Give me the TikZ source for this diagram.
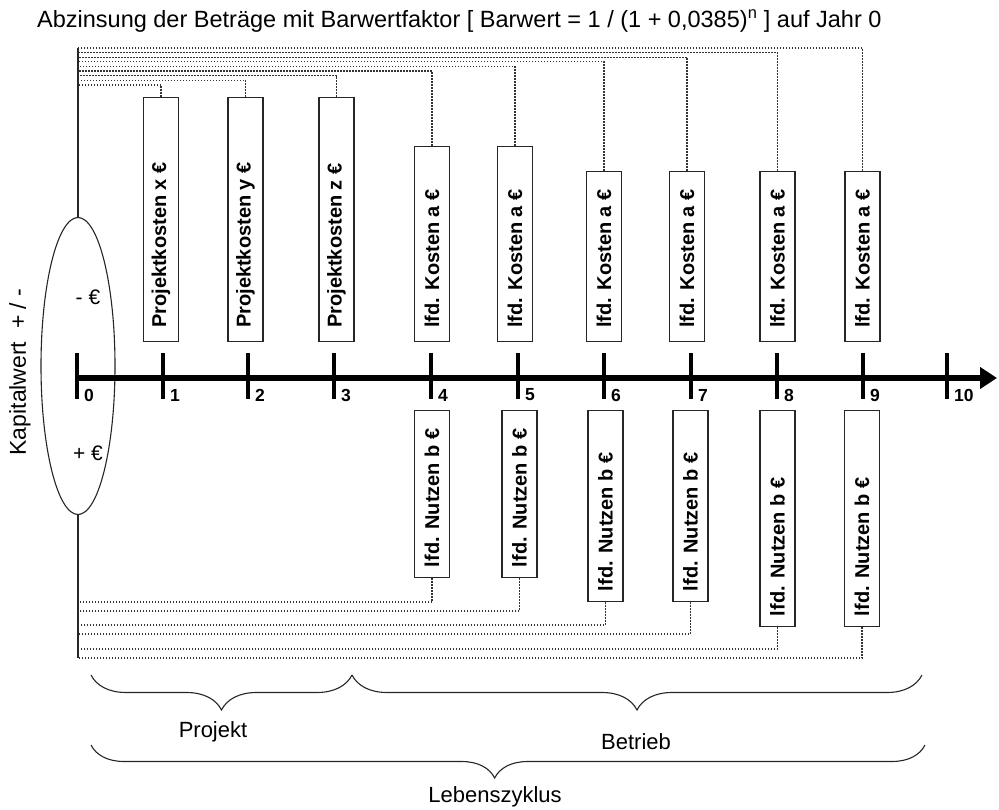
\documentclass[tikz,border=0pt]{standalone}
\usepackage{fontspec}
\setmainfont{Liberation Sans}
\usepackage{tikz}
\usetikzlibrary{arrows.meta,positioning,calc,shapes.geometric,decorations.pathreplacing}

\begin{document}
\begin{tikzpicture}[x=1pt, y=-1pt,
  box/.style={draw=black!85, line width=1.2pt, minimum width=35pt, inner sep=0pt},
  boxtext/.style={rotate=90, inner sep=0pt, font=\fontsize{20}{24}\selectfont\bfseries},
  dotline/.style={black!80, line width=1.2pt, dash pattern=on 1.3pt off 1.7pt},
  tickmark/.style={line width=4.5pt},
  axislabel/.style={inner sep=0pt, font=\fontsize{17.5}{21}\selectfont\bfseries},
  bigtext/.style={inner sep=0pt, font=\fontsize{22}{26}\selectfont},
  curly/.style={black!85, line width=1.1pt, decorate}]
\useasboundingbox (0,0) rectangle (999,810);

% title
\node[anchor=base west, inner sep=0pt, font=\fontsize{23.5}{28}\selectfont] (title) at (37,28)
  {Abzinsung der Beträge mit Barwertfaktor [ Barwert = 1 / (1 + 0,0385)\textsuperscript{n} ] auf Jahr 0};

% Kapitalwert
\node[draw=black!85, line width=1.1pt, ellipse, minimum width=74pt, minimum height=297pt, inner sep=0pt] (kw) at (78,366) {};
\node[bigtext, font=\fontsize{21}{25}\selectfont] (minus) at (88,297) {- €};
\node[bigtext, font=\fontsize{21}{25}\selectfont] (plus) at (88,453) {+ €};
\node[bigtext, rotate=90, font=\fontsize{23}{27}\selectfont] (kwlabel) at (20,372) {Kapitalwert \ + / -};
\coordinate (kwtop) at (78,48);
\coordinate (kwbot) at (78,658);
\draw[black!85, line width=1.2pt] (kw.north) -- (kwtop);
\draw[black!85, line width=1.2pt] (kw.south) -- (kwbot);

% time axis
\draw[line width=5pt, -{Triangle[length=17pt,width=21pt]}] (75,378) -- (997,378);
\foreach \x/\n in {77/0, 163/1, 248/2, 334/3, 431/4, 518/5, 604/6, 691/7, 777/8, 863/9, 947/10} {
  \draw[tickmark] (\x,353) -- (\x,399);
  \node[axislabel, anchor=west] (year\n) at (\x+7,395) {\n};
}

% costs above the axis
\foreach \n/\x/\top/\ly/\txt in {1/161/98/85/Projektkosten x €, 2/245.5/98/80.4/Projektkosten y €,
    3/336.5/98/75.75/Projektkosten z €, 4/432/147/71.1/lfd. Kosten a €, 5/515/147/66.5/lfd. Kosten a €,
    6/604/172/61.9/lfd. Kosten a €, 7/687/172/57.25/lfd. Kosten a €, 8/777.5/172/52.6/lfd. Kosten a €,
    9/862.5/172/48/lfd. Kosten a €} {
  \node[box, anchor=south, minimum height={(342-\top)*1pt}] (k\n) at (\x,342) {};
  \node[boxtext, anchor=west] (kt\n) at ([yshift=14pt]k\n.south) {\txt};
  \coordinate (kl\n) at (78,\ly);
  \draw[dotline] (k\n.north) |- (kl\n);
}

% benefits below the axis
\foreach \n/\x/\bot/\ly in {4/432/577/602, 5/519.5/577/611, 6/605.5/601/625,
    7/690.5/601/634, 8/777.5/626/649, 9/862/626/658} {
  \node[box, anchor=north, minimum height={(\bot-410)*1pt}] (u\n) at (\x,410) {};
  \node[boxtext, anchor=west] (ut\n) at ([yshift=11pt]u\n.south) {lfd. Nutzen b €};
  \coordinate (ul\n) at (78,\ly);
  \draw[dotline] (u\n.south) |- (ul\n);
}

% phases
\draw[curly, decoration={brace, mirror, amplitude=35pt}] (91,675) -- (352,675);
\draw[curly, decoration={brace, mirror, amplitude=35pt}] (352,675) -- (922,675);
\draw[curly, decoration={brace, mirror, amplitude=33pt, aspect=0.484}] (91,745) -- (925,745);
\node[bigtext] (projekt) at (213,732) {Projekt};
\node[bigtext] (betrieb) at (636,742) {Betrieb};
\node[bigtext] (leben) at (495,797) {Lebenszyklus};
\end{tikzpicture}
\end{document}
